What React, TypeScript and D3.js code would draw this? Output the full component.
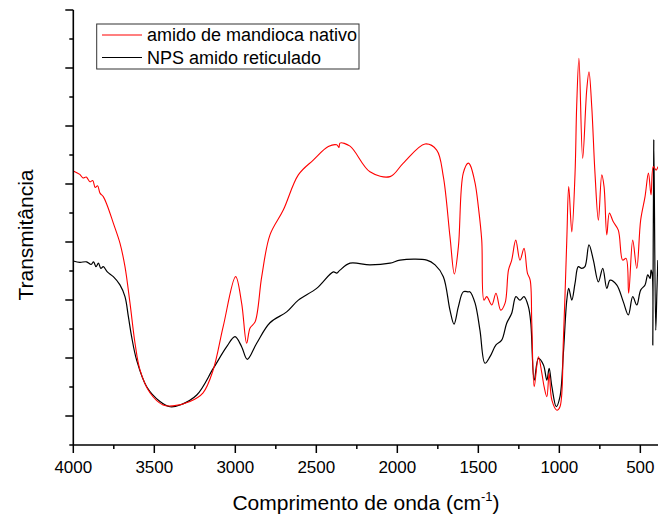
import React from "react";
import * as d3 from "d3";

// Wavenumber (cm-1) and transmittance (arbitrary units)
const nativeWave = [4000, 3960, 3940, 3920, 3897, 3880, 3865, 3850, 3835, 3815, 3790, 3753, 3712, 3681, 3650, 3619, 3588, 3527, 3446, 3385, 3280, 3199, 3137, 3075, 2998, 2961, 2930, 2909, 2878, 2837, 2786, 2704, 2611, 2519, 2426, 2374, 2360, 2354, 2292, 2169, 2045, 1963, 1829, 1757, 1716, 1675, 1648, 1623, 1593, 1562, 1551, 1520, 1500, 1479, 1465, 1448, 1417, 1391, 1362, 1335, 1314, 1294, 1269, 1243, 1218, 1197, 1180, 1170, 1155, 1129, 1108, 1094, 1077, 1063, 1046, 1015, 996, 975, 954, 942, 923, 903, 893, 879, 856, 831, 817, 800, 780, 759, 738, 724, 707, 691, 667, 636, 609, 588, 572, 547, 522, 498, 471, 450, 434, 420, 403, 391];
const nativeT = [63.0, 62.2, 61.4, 61.6, 60.5, 60.8, 59.2, 59.6, 57.9, 57.1, 55.0, 51.0, 46.4, 41.0, 32.6, 23.4, 17.2, 12.0, 9.2, 9.0, 10.0, 12.0, 17.2, 27.2, 38.7, 32.6, 23.4, 26.9, 28.3, 38.7, 48.3, 54.0, 62.1, 65.5, 68.6, 69.0, 68.4, 69.4, 68.7, 62.8, 61.7, 64.8, 69.2, 67.8, 61.7, 47.9, 39.3, 45.6, 62.5, 64.8, 64.4, 60.2, 54.8, 47.1, 33.3, 34.1, 32.2, 34.9, 31.0, 32.6, 40.2, 42.5, 47.1, 42.5, 45.2, 39.5, 37.9, 28.0, 13.4, 20.3, 16.5, 13.4, 11.1, 16.5, 10.3, 8.0, 8.8, 24.1, 47.1, 59.4, 49.0, 62.5, 77.8, 88.9, 65.9, 81.6, 85.8, 77.8, 62.5, 51.7, 62.1, 59.4, 48.3, 53.3, 51.3, 49.4, 42.5, 42.9, 34.9, 47.1, 40.6, 51.7, 57.1, 62.5, 57.5, 64.0, 63.2, 64.0];

const npsWave = [4000, 3960, 3918, 3890, 3875, 3860, 3845, 3830, 3815, 3790, 3753, 3712, 3681, 3660, 3640, 3609, 3547, 3465, 3403, 3341, 3238, 3136, 3053, 3002, 2961, 2926, 2868, 2786, 2683, 2611, 2498, 2395, 2374, 2354, 2292, 2169, 2045, 1983, 1818, 1767, 1716, 1675, 1650, 1623, 1593, 1562, 1551, 1520, 1490, 1459, 1428, 1391, 1356, 1325, 1294, 1268, 1243, 1218, 1191, 1176, 1155, 1129, 1098, 1077, 1063, 1046, 1019, 996, 975, 954, 942, 923, 903, 883, 862, 842, 817, 790, 759, 732, 707, 687, 646, 605, 574, 547, 522, 498, 471, 454, 440, 434, 426, 423, 417, 405, 398, 392];
const npsT = [42.3, 42.0, 42.1, 41.5, 42.1, 41.0, 41.8, 40.6, 41.0, 39.8, 38.7, 36.8, 34.1, 29.5, 24.9, 19.5, 13.4, 10.0, 8.8, 9.2, 11.5, 17.6, 22.6, 24.9, 22.6, 19.7, 23.4, 28.1, 30.6, 33.3, 36.0, 39.8, 39.5, 40.2, 41.8, 41.4, 41.8, 42.5, 42.5, 41.4, 38.7, 31.0, 27.8, 31.8, 35.2, 35.2, 35.2, 32.6, 26.4, 18.8, 20.3, 23.0, 24.1, 28.0, 30.3, 34.1, 33.3, 34.1, 31.8, 28.0, 14.9, 19.9, 18.4, 14.9, 17.6, 13.4, 8.8, 11.1, 21.1, 33.3, 36.0, 33.3, 37.2, 41.0, 40.6, 41.0, 46.0, 42.5, 37.5, 40.6, 36.0, 37.9, 36.8, 32.9, 29.9, 34.1, 32.2, 35.6, 36.8, 39.1, 38.3, 40.2, 39.0, 23.0, 70.1, 26.4, 35.0, 42.5];

const xTickValues = [4000, 3500, 3000, 2500, 2000, 1500, 1000, 500];
const seriesNames = ["amido de mandioca nativo", "NPS amido reticulado"];
const seriesColors = ["#ff0000", "#000000"];

export default function App() {
  const W = 658, H = 517;
  const left = 73.3, right = 658, top = 10, bottom = 445;
  const x = d3.scaleLinear().domain([4000, 391]).range([left, right]);
  const y = d3.scaleLinear().domain([0, 100]).range([bottom, top]);

  const line = d3
    .line<[number, number]>()
    .x((d) => x(d[0]))
    .y((d) => y(d[1]))
    .curve(d3.curveCatmullRom.alpha(0.5));

  const nativeData = nativeWave.map((w, i) => [w, nativeT[i]] as [number, number]);
  const npsData = npsWave.map((w, i) => [w, npsT[i]] as [number, number]);

  const minorX = d3.range(3750, 400, -500);
  const yTicks = d3.range(0, 15.01, 1).map((k) => k * (100 / 15));

  const font = "Arial, 'Liberation Sans', sans-serif";

  return (
    <svg width={W} height={H} style={{ position: "absolute", left: 0, top: 0, background: "#fff" }}>
      <defs>
        <clipPath id="plot">
          <rect x={left} y={0} width={right - left} height={bottom} />
        </clipPath>
      </defs>
      <g clipPath="url(#plot)">
        <path d={line(npsData) || ""} fill="none" stroke={seriesColors[1]} strokeWidth={1.2} />
        <path d={line(nativeData) || ""} fill="none" stroke={seriesColors[0]} strokeWidth={1.1} />
      </g>
      {/* axes */}
      <line x1={left} x2={left} y1={top} y2={bottom} stroke="#000" strokeWidth={1.6} />
      <line x1={left} x2={right} y1={bottom} y2={bottom} stroke="#000" strokeWidth={1.6} />
      {yTicks.map((v, i) => (
        <line key={"yt" + i} x1={left - ((15 - i) % 2 === 0 ? 8 : 4)} x2={left} y1={y(v)} y2={y(v)} stroke="#000" strokeWidth={1.5} />
      ))}
      {xTickValues.map((v) => (
        <g key={"xt" + v}>
          <line x1={x(v)} x2={x(v)} y1={bottom} y2={bottom + 8} stroke="#000" strokeWidth={1.5} />
          <text x={x(v)} y={473} textAnchor="middle" fontFamily={font} fontSize={17} fill="#000">
            {v}
          </text>
        </g>
      ))}
      {minorX.map((v) => (
        <line key={"mx" + v} x1={x(v)} x2={x(v)} y1={bottom} y2={bottom + 4} stroke="#000" strokeWidth={1.5} />
      ))}
      {/* axis titles */}
      <text x={366} y={510} textAnchor="middle" fontFamily={font} fontSize={21} fill="#000">
        Comprimento de onda (cm
        <tspan fontSize={13} dy={-9}>-1</tspan>
        <tspan dy={9}>)</tspan>
      </text>
      <text transform="translate(33,235) rotate(-90)" textAnchor="middle" fontFamily={font} fontSize={21} fill="#000">
        Transmitância
      </text>
      {/* legend */}
      <rect x={96.7} y={24} width={262.3} height={45} fill="#fff" stroke="#333" strokeWidth={1} />
      {seriesNames.map((n, i) => (
        <g key={n}>
          <line x1={102} x2={142} y1={35 + i * 22.5} y2={35 + i * 22.5} stroke={seriesColors[i]} strokeWidth={1.2} />
          <text x={147} y={35 + i * 22.5 + 6} fontFamily={font} fontSize={18} fill="#000">
            {n}
          </text>
        </g>
      ))}
    </svg>
  );
}
